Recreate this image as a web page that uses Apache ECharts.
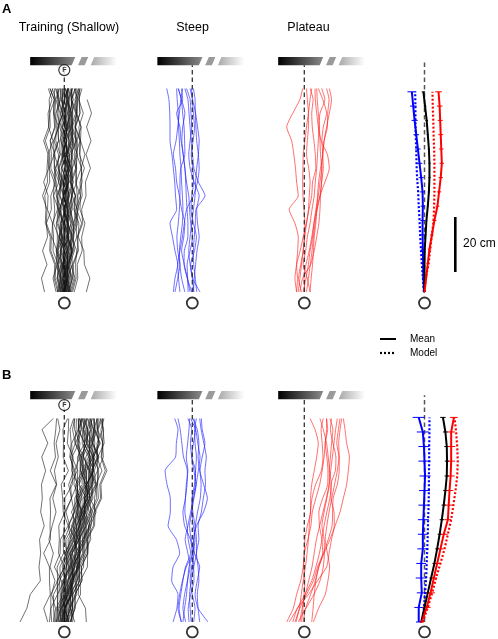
<!DOCTYPE html>
<html><head><meta charset="utf-8">
<script src="https://cdn.jsdelivr.net/npm/echarts@6/dist/echarts.min.js"></script>
<style>html,body{margin:0;padding:0;background:#fff}#c{width:498px;height:639px}</style>
</head><body><div id="c"></div>
<script>
// ---------- DATA (lateral position in cm, distance along track in cm) ----------
const panelTitles = ['Training (Shallow)', 'Steep', 'Plateau'];
const rowLabels = ['A', 'B'];
const trajLevels = [0,5,10,15,20,25,30,35,40,45,50,55,60,65,70,74];

const trainA = [
[0.2,1.1,0.9,1.6,0.1,-0.2,-1.5,-0.4,-0.3,1.4,1.0,1.8,0.2,0.3,-1.2,-1.2],
[-0.5,-1.6,-1.5,-3.0,-1.6,-1.4,0.3,0.2,1.7,0.3,0.5,-1.3,-1.1,-2.7,-2.2,-3.2],
[1.0,2.3,2.0,3.7,3.2,3.5,1.9,2.6,2.3,4.1,3.6,4.3,2.5,2.9,2.5,3.9],
[-1.0,0.1,-0.1,1.7,1.4,3.1,2.4,2.7,0.9,1.1,-0.7,0.9,0.7,2.5,0.9,1.1],
[0.5,-0.8,-0.5,-2.3,-2.0,-3.9,-3.5,-3.9,-2.0,-3.7,-3.4,-5.1,-3.5,-3.9,-3.6,-5.2],
[1.5,3.0,3.0,4.9,4.7,6.3,4.5,4.7,4.3,6.1,5.7,5.9,4.1,5.7,5.3,6.4],
[-2.0,-3.3,-3.1,-4.9,-4.7,-6.5,-6.3,-7.9,-6.1,-6.3,-5.9,-7.5,-5.7,-5.9,-4.5,-5.8],
[0.0,0.9,-0.5,-0.1,-0.7,0.9,0.3,0.7,-0.9,0.7,0.3,1.9,0.3,0.7,0.1,1.2],
[2.0,0.9,1.3,1.1,2.9,1.3,1.5,-0.1,1.7,1.5,3.1,1.5,1.9,1.7,3.3,2.2],
[-1.5,-2.7,-1.1,-1.3,-0.9,-2.7,-2.3,-2.5,-0.7,-2.3,-2.1,-3.7,-2.1,-2.3,-1.7,-3.0],
[0.8,1.9,1.5,3.1,1.3,1.5,1.1,2.9,2.7,4.5,4.1,5.7,3.9,4.3,3.9,5.2],
[-0.2,-1.3,-0.9,-2.7,-2.5,-2.9,-1.1,-2.9,-2.9,-4.9,-4.7,-5.1,-3.3,-3.5,-3.1,-4.4],
[3.0,4.3,4.1,4.5,2.7,4.3,4.1,5.9,5.7,7.3,5.5,5.7,5.3,6.9,5.3,5.2],
[-3.0,-4.1,-2.5,-2.7,-0.9,-1.1,0.7,0.5,0.9,-0.9,-0.7,-1.1,0.7,0.5,0.9,-0.4],
[-7.2,-8.3,-6.3,-7.9,-6.1,-6.5,-4.7,-4.9,-3.1,-3.3,-1.5,-3.1,-2.9,-3.1,-1.3,-1.4],
[8.0,9.3,7.3,7.1,5.1,5.3,3.5,3.9,2.1,2.5,0.9,2.5,2.3,2.7,1.1,1.2],
[2.2,3.5,3.3,5.1,4.9,6.7,6.3,7.9,7.7,9.5,7.9,9.7,8.1,9.9,8.3,null],
[0.4,-0.7,1.1,0.9,2.7,1.1,1.3,-0.5,-0.3,-2.1,-0.5,-0.7,1.1,-0.5,-0.1,0.0],
[-0.8,0.5,0.3,0.7,-1.1,-0.9,-1.3,0.5,0.3,2.1,1.9,3.5,1.9,2.1,1.7,3.0],
[1.2,0.1,0.3,-1.5,0.1,-0.1,1.7,1.5,3.3,1.7,1.9,0.1,0.3,-1.5,0.1,0.2],
[-1.8,-0.5,-0.7,1.1,0.9,1.3,-0.5,-0.3,-2.1,-1.9,-3.7,-2.1,-2.3,-0.5,-2.1,-2.0],
[2.6,3.9,2.3,2.5,0.7,2.5,2.3,4.1,2.5,2.7,2.5,4.3,4.1,4.5,2.7,2.8],
[-2.6,-1.3,-2.9,-2.7,-4.5,-4.3,-6.1,-5.9,-7.5,-5.7,-5.9,-4.1,-5.7,-5.3,-5.5,-4.2],
[0.0,1.5,1.3,3.3,3.1,4.9,4.7,6.5,6.1,6.3,4.5,4.7,2.9,3.1,2.7,4.2],
[1.8,0.5,0.7,-1.1,0.7,0.5,2.3,0.7,0.9,-0.9,0.9,0.7,2.5,2.3,2.7,1.4],
[-1.2,-2.5,-2.3,-4.1,-3.9,-4.3,-2.5,-2.7,-0.9,-1.1,0.7,0.5,0.9,-0.9,-0.7,-0.8],
[0.6,1.7,-0.1,0.1,-1.7,-1.5,-1.9,-0.1,-0.3,1.5,1.3,3.1,2.9,4.7,4.5,5.8],
[-0.4,0.7,0.5,2.3,2.1,3.9,3.7,4.1,2.3,2.5,0.7,0.9,-0.9,-0.7,-2.5,-2.4],
[3.6,4.9,4.7,6.5,6.3,7.5,5.7,5.9,4.1,4.3,2.5,4.1,3.9,5.7,5.5,5.6],
[-2.4,-3.7,-3.5,-5.3,-5.1,-6.9,-6.7,-7.1,-5.3,-5.5,-3.7,-3.9,-2.1,-3.9,-3.7,-5.2],
[1.0,-0.3,-0.1,-0.3,1.5,-0.1,0.1,-1.7,-1.5,-1.9,-0.1,-0.3,1.5,1.3,1.7,0.4],
[0.2,1.3,1.1,2.9,1.3,1.5,-0.3,1.3,1.1,2.9,2.7,3.1,1.3,1.5,1.3,2.8],
[-0.6,-1.9,-0.3,-0.5,1.3,1.1,2.9,2.7,4.5,4.3,4.7,2.9,3.1,2.7,4.3,4.2],
[1.4,2.7,1.1,1.3,-0.5,-0.3,-2.1,-1.9,-3.7,-3.5,-3.9,-2.1,-2.3,-0.5,-0.7,-0.6],
[-1.4,-0.1,-0.3,0.1,-1.7,-0.1,-0.3,1.5,1.3,1.7,-0.1,0.1,-1.7,-1.5,-3.1,-1.8],
[2.4,1.1,2.9,2.7,4.5,4.3,4.7,2.9,3.1,2.9,4.7,4.5,6.1,4.5,4.9,3.6],
[0.0,-1.3,-1.1,-1.5,0.3,0.1,0.3,-1.5,-1.3,-3.1,-1.5,-1.7,0.1,-0.1,1.7,1.6],
[-0.2,1.1,0.9,2.7,2.5,2.9,1.1,1.3,-0.5,1.1,0.9,2.7,2.5,4.1,2.5,2.6],
[1.6,0.3,1.9,1.7,3.5,3.3,5.1,4.9,6.5,6.1,7.5,5.9,6.1,4.3,4.7,4.6],
[-1.0,-2.3,-2.1,-2.3,-0.5,-2.3,-2.1,-3.9,-3.7,-5.5,-5.3,-6.9,-5.1,-5.3,-3.5,-3.6],
[0.6,-0.5,1.3,0.3,1.7,0.1,1.2,-0.4,1.5,0.2,1.6,-0.2,1.4,0.0,1.2,0.4],
[-0.4,0.8,-0.6,0.9,-0.2,1.3,0.0,1.8,0.4,2.2,0.8,2.4,1.0,2.0,0.6,1.6],
[1.8,2.9,1.6,2.8,1.2,2.4,0.6,1.9,0.2,1.4,-0.4,0.9,-0.8,0.6,-1.0,0.2],
[-2.2,-1.0,-2.4,-0.9,-2.0,-0.6,-1.8,-0.2,-1.4,0.3,-1.0,0.8,-0.6,1.2,0.0,1.4]
];

const steepA = [
[-6.9,-6.3,-5.3,-6.3,-7.2,-8.1,-5.7,-6.1,-6.4,-6.9,-7.4,-8.1,-8.1,-8.2,-8.5,-9.3],
[-2.7,-3.9,-4.5,-4.7,-4.2,-3.6,-3.4,-3.6,-3.9,-4.1,-4.5,-4.7,-5.0,-5.1,-5.5,-5.7],
[-0.2,-1.8,-3.0,-2.9,-1.6,-1.6,-1.9,-2.2,-2.4,-2.7,-3.3,-4.1,-4.5,-5.7,-3.5,-3.9],
[1.6,1.1,0.5,0.4,0.7,1.1,1.3,4.6,2.2,0.6,0.1,-0.4,-0.8,-1.2,-1.6,-2.7],
[2.8,0.1,-0.8,-1.3,-0.8,-0.2,0.4,1.0,1.2,1.6,2.2,2.5,1.9,1.2,0.1,-0.8],
[-1.5,-1.7,-1.9,-0.8,0.1,-0.6,-1.0,-1.3,-2.1,-2.7,-3.3,-3.8,-3.5,-2.7,-3.9,-5.1],
[0.4,0.7,1.2,1.7,2.5,1.9,1.6,2.5,0.6,-0.8,-1.3,-0.8,-0.2,-0.5,-0.8,-2.1],
[-4.5,-5.0,-5.3,-4.5,-3.6,-2.9,-2.1,0.4,1.9,2.5,2.2,1.6,1.3,1.1,1.0,0.4],
[-0.8,-1.8,-2.9,-3.9,-3.1,-2.7,-3.9,-4.7,-5.7,-6.1,-6.9,-5.9,-5.3,-4.7,-4.2,-3.5],
[-6.3,-5.3,-4.5,-5.3,-5.6,-5.1,-4.7,-4.5,-4.5,-4.2,-2.7,-2.8,-3.0,-3.5,-4.0,-5.1],
[0.6,0.0,-0.6,0.8,1.5,0.4,-0.5,-0.2,0.5,0.2,-0.4,0.3,0.8,0.4,0.0,-0.3]
];

const plateauA = [
[-2.8,-2.5,-2.8,-2.4,-2.2,-3.4,-5.5,-2.2,-2.8,-3.2,-3.8,-4.6,-6.4,-4.2,-1.6,-0.6],
[-2.2,-1.6,-1.0,-0.4,0.0,0.2,-0.1,-0.5,-0.6,-0.5,-0.4,0.2,0.8,1.5,2.1,2.7],
[0.2,-0.1,0.6,1.8,2.7,3.5,4.5,5.7,7.5,9.1,8.4,6.1,5.1,4.5,4.0,3.9],
[0.8,1.5,2.2,2.8,3.3,3.9,4.7,5.7,6.3,6.9,6.7,6.4,6.9,8.1,6.7,5.1],
[2.1,2.5,3.0,3.3,3.6,4.2,4.5,4.8,5.2,5.9,6.7,7.2,8.1,9.1,9.9,9.1],
[-2.8,-3.4,-2.8,-1.5,-0.4,0.8,1.7,2.7,3.0,4.2,4.0,3.5,2.9,2.7,3.2,2.1],
[2.1,1.1,-0.4,0.5,1.1,2.1,2.8,3.6,4.0,4.5,4.8,5.1,5.3,5.7,7.5,6.3],
[-1.6,-0.6,2.3,3.6,4.5,5.3,5.7,5.9,6.3,6.4,6.7,7.2,8.4,8.5,9.0,8.1],
[-1.0,-2.1,-1.3,-0.4,0.2,0.8,1.5,1.8,2.1,1.6,0.8,1.1,1.5,1.5,1.1,0.8],
[-0.4,0.6,1.5,2.1,3.0,3.5,4.2,5.1,5.7,6.3,5.9,5.7,5.5,5.1,4.7,4.5]
];

const trainB = [
[-16.1,-13.6,-12.4,-8.7,-9.2,-8.6,-9.0,-7.3,-8.6,-8.0,-8.3,-6.8,-8.2,-6.0,-8.1,-4.0],
[-6.0,-7.5,-5.1,-5.4,-5.4,-7.5,-5.0,-5.2,-5.0,-5.2,-2.9,-5.1,-3.2,-3.7,-3.1,-2.8],
[-3.0,-1.3,-1.1,-1.0,-3.6,-1.5,-1.4,1.4,-0.4,-0.6,-1.1,1.5,-0.4,-0.3,-0.5,1.2],
[0.0,0.3,2.9,2.8,5.4,5.5,7.8,7.6,9.6,9.2,11.5,10.9,12.6,10.5,10.9,11.0],
[1.0,2.9,2.9,5.6,5.6,7.9,8.0,10.6,10.8,13.2,12.9,14.9,13.4,13.9,13.3,14.4],
[-2.0,-1.9,0.5,0.4,0.8,1.1,3.8,3.6,6.0,6.0,8.7,6.7,7.0,4.7,5.1,5.2],
[0.6,2.3,0.3,3.0,3.0,5.5,5.4,6.0,6.2,8.6,8.3,10.7,8.8,9.3,8.9,10.2],
[-1.4,-1.1,1.3,1.2,3.8,1.9,4.4,4.2,6.4,4.4,7.1,7.1,9.4,7.3,7.7,6.4],
[2.0,3.9,3.9,6.4,6.2,8.5,8.4,11.0,11.2,13.6,13.3,15.5,13.6,14.1,12.1,12.0],
[-0.6,-2.3,0.1,0.0,2.6,2.7,5.2,3.0,5.2,5.2,7.9,5.9,6.2,4.1,6.1,6.2],
[-3.6,-3.9,-3.9,-1.4,-1.6,0.7,0.6,3.2,3.4,5.8,3.5,3.9,2.0,2.5,2.1,3.4],
[1.6,-0.1,2.3,2.2,4.8,4.9,7.4,7.2,7.4,7.4,10.1,10.1,12.2,10.1,12.1,12.4],
[-1.8,-0.1,-0.1,2.4,2.2,4.5,4.4,7.0,7.2,9.6,7.3,7.7,7.8,10.3,8.3,8.0],
[0.2,-1.5,-1.5,-1.8,0.8,0.9,3.4,3.2,5.4,5.4,8.1,8.1,10.4,10.1,10.5,9.2],
[-4.6,-4.9,-4.9,-2.4,-2.6,-0.3,-0.4,0.0,0.2,2.6,2.3,4.7,4.8,7.3,5.3,5.0],
[3.0,3.5,5.9,5.8,8.4,8.5,9.0,8.8,11.0,11.0,11.7,9.7,12.0,11.9,13.9,14.0],
[-0.2,1.7,1.7,2.0,1.8,4.1,4.0,6.6,6.8,9.2,8.9,9.1,7.0,7.3,6.9,8.2],
[1.2,1.7,4.1,4.0,4.6,4.7,7.2,7.0,9.2,7.2,7.9,5.9,6.2,3.9,4.3,4.4],
[-2.6,-0.9,-0.9,1.6,1.4,1.5,1.4,4.0,4.2,4.4,4.1,6.5,6.6,9.1,7.1,6.8],
[0.8,-0.9,1.5,1.4,4.0,4.1,6.6,6.4,8.6,8.6,11.3,9.1,9.2,9.1,11.5,11.8],
[-1.0,0.9,0.9,3.4,3.2,5.5,3.2,5.8,6.0,8.4,8.1,10.5,10.6,13.1,11.1,10.8],
[2.6,2.9,3.1,3.0,5.6,5.7,8.2,8.0,10.2,8.2,8.9,8.9,11.2,9.1,9.5,8.4],
[-0.4,1.3,1.3,3.8,3.6,5.9,5.8,6.4,4.6,5.0,4.7,7.1,5.2,5.7,3.7,3.6],
[-5.4,-4.9,-2.5,-2.6,0.0,-2.1,-1.8,-2.0,0.2,0.2,2.9,2.9,3.2,1.1,1.5,1.6],
[0.4,2.1,2.1,4.6,4.4,6.7,6.6,9.2,9.4,11.8,11.5,13.7,11.8,12.3,12.3,13.8],
[1.8,0.1,2.5,2.4,2.8,2.9,5.4,5.2,7.4,7.4,8.1,8.1,10.4,8.1,8.3,7.0],
[-2.2,-2.5,-2.5,0.0,-0.2,2.1,2.0,4.6,2.6,5.0,4.7,4.9,2.8,5.3,5.3,6.6],
[3.8,2.1,4.5,4.4,7.0,7.1,9.6,9.4,11.6,9.4,12.1,12.1,14.2,13.9,14.3,13.0],
[-1.2,0.5,0.5,0.8,0.6,2.9,2.8,5.4,5.6,8.0,5.5,5.7,5.8,8.3,8.3,9.6],
[0.0,0.3,2.7,2.6,5.2,5.3,5.8,5.6,7.8,7.8,10.5,10.5,10.6,8.3,8.5,7.4],
[8.0,7.7,5.1,5.2,5.0,7.3,7.2,9.8,10.0,12.4,12.1,12.5,10.6,11.1,10.7,12.0],
[-3.2,-2.9,-0.5,-0.6,2.0,2.1,4.6,4.4,6.6,4.4,4.9,2.7,2.8,2.7,5.1,5.4],
[1.4,3.1,3.1,5.6,5.4,5.5,5.4,8.0,6.0,8.4,8.1,10.5,10.6,12.9,10.9,10.6],
[-0.8,-0.5,-0.3,-0.4,2.2,2.3,4.8,4.6,6.8,6.8,9.5,9.5,9.6,7.3,9.7,10.0],
[2.2,3.9,3.9,6.4,6.2,8.5,8.4,8.8,6.8,9.2,8.9,9.1,7.0,7.3,5.1,6.2],
[-1.6,-1.3,1.1,1.0,3.6,3.7,4.0,1.6,3.8,3.8,6.5,6.5,8.8,6.5,6.7,5.6],
[0.6,2.3,2.3,4.8,4.6,6.9,6.8,9.4,7.6,10.0,9.7,12.1,12.2,14.5,14.1,13.8],
[-2.8,-2.5,-2.3,-2.4,0.2,0.3,2.8,2.6,4.8,4.8,7.5,7.5,9.8,9.7,9.9,8.6],
[1.0,0.7,0.7,3.2,3.0,5.3,5.2,7.8,8.0,10.4,10.1,10.3,10.2,12.5,12.1,13.2],
[-0.2,0.1,2.5,2.4,5.0,2.9,5.4,5.2,7.4,7.4,10.1,10.1,12.4,10.3,10.7,9.4],
[-4.0,-3.2,-4.6,-3.4,-5.2,-4.0,-5.6,-4.4,-3.0,-4.2,-2.8,-3.6,-2.2,-3.0,-1.6,-2.4],
[-1.0,0.2,-1.2,0.6,-0.8,1.2,0.0,2.0,0.6,2.6,1.6,3.4,2.2,4.0,3.0,3.8],
[2.4,3.0,1.8,3.4,2.6,4.6,3.6,5.6,4.4,6.4,5.4,7.4,6.2,8.0,7.0,7.6],
[0.4,-0.6,0.8,-0.2,1.6,0.4,2.4,1.4,3.6,2.6,4.6,3.8,5.6,5.0,6.2,5.6]
];

const steepB = [
[-7.0,-5.6,-5.2,-7.5,-7.0,-4.6,-5.8,-8.8,-8.0,-8.0,-9.2,-9.9,-6.1,-5.8,-5.2,-6.4],
[-4.0,-4.8,-4.2,-3.4,-2.5,-0.6,-1.5,-1.9,-2.7,-2.5,-1.9,-1.8,-3.2,-3.8,-4.4,-5.2],
[-3.4,-2.8,-2.1,-1.7,-1.2,0.2,1.0,0.4,-0.2,0.0,1.1,1.1,-0.2,-0.7,-0.2,-1.6],
[2.7,2.1,1.8,2.4,2.1,1.5,2.4,2.1,3.3,4.0,4.8,4.6,5.1,4.2,3.2,2.7],
[5.7,2.1,1.0,1.8,2.7,0.8,0.5,1.5,4.1,5.5,4.1,2.7,2.1,2.4,1.8,0.2],
[-4.0,-5.2,-4.6,-3.6,-2.2,0.0,-0.7,-2.8,-3.4,-2.5,-2.2,-1.6,-2.2,-1.7,-1.2,-1.0],
[-0.4,-0.8,-1.0,-0.4,0.5,1.5,1.5,1.0,0.2,-0.1,0.8,1.2,1.5,1.0,0.8,1.5],
[-1.2,-1.5,-0.6,0.6,0.5,0.2,0.5,1.1,1.9,2.9,3.2,2.8,3.6,4.6,3.6,3.3],
[0.5,1.0,0.0,-0.8,-0.2,0.6,-0.4,-1.0,-0.2,0.6,1.4,0.6,-0.2,0.4,1.2,0.6],
[-2.4,-3.4,-2.8,-1.8,-0.8,-1.6,-2.6,-1.6,-0.6,0.4,1.4,2.2,2.8,2.0,1.2,-0.6]
];

const plateauB = [
[-6.4,-4.0,-2.8,-1.3,-0.4,0.0,0.2,1.1,2.3,2.3,2.7,3.6,4.5,5.1,3.9,2.1],
[-5.5,-2.5,0.2,2.7,4.2,5.5,6.4,7.2,8.2,9.3,9.8,9.2,8.7,8.1,6.9,5.7],
[-3.4,-1.6,0.8,3.3,4.8,6.9,8.7,10.1,10.3,10.5,12.0,12.7,12.7,12.5,13.0,13.6],
[-0.4,0.5,2.3,4.0,5.2,7.2,9.3,11.2,13.0,14.2,15.4,16.0,16.4,15.4,14.8,14.2],
[-1.0,-0.5,-0.1,0.2,-0.2,0.0,1.3,2.4,2.9,4.2,5.6,6.5,7.2,7.6,8.1,8.1],
[-2.2,0.6,3.5,5.7,6.9,7.3,7.2,6.4,7.2,8.2,9.1,9.1,9.5,9.9,10.4,9.3],
[-3.0,-1.8,-1.1,-0.4,0.4,1.0,1.5,1.8,2.2,2.8,4.1,6.2,6.8,6.5,6.1,6.9],
[-4.2,-2.5,1.5,4.8,8.1,9.0,9.9,10.9,10.8,9.7,9.7,11.3,11.5,10.4,9.5,9.9],
[2.7,3.2,3.6,4.2,5.3,6.7,6.4,5.5,5.3,6.7,8.5,8.6,8.2,7.6,8.5,8.1],
[3.3,5.2,7.6,8.6,9.2,8.4,7.6,8.2,9.0,10.0,11.0,12.0,12.6,11.8,12.4,13.0],
[-1.6,-0.8,0.4,1.6,2.8,3.6,4.4,5.6,6.8,8.0,9.0,9.6,10.2,10.8,11.4,12.0]
];

// summary panels (mean, model, error) at sampled distances
const levelsA = [0,5.2,10.4,15.6,20.8,26.0,31.2,36.4,41.6,46.8,52.0,57.2,62.4,67.6,72.8];
const blueMeanA  = [-0.2,-0.4,-0.5,-0.6,-0.7,-0.7,-0.6,-0.7,-1.2,-1.8,-2.4,-3.0,-3.6,-4.1,-4.6];
const blueModelA = [-0.2,-0.6,-1.0,-1.3,-1.6,-1.8,-2.1,-2.3,-2.7,-2.9,-3.0,-3.2,-3.3,-3.3,-3.4];
const blackMeanA = [-0.1,0,0,0.1,0.4,0.7,1.2,1.6,1.8,1.8,1.6,1.2,0.8,0.2,-0.4];
const redMeanA   = [0,0.6,1.2,1.8,2.7,3.6,4.7,5.3,5.9,6.3,6.1,5.9,5.7,5.5,5.1];
const redModelA  = [0,0.5,1.5,2.1,2.7,3.3,3.5,3.6,3.6,3.6,3.5,3.3,3.2,3.0,2.9];
const blueErrA   = [0.3,0.5,0.6,0.7,0.8,0.8,0.8,0.9,0.9,1.0,1.0,1.0,1.1,1.2,1.6];
const blackErrA  = [0.1,0.2,0.2,0.3,0.3,0.3,0.3,0.4,0.4,0.4,0.4,0.4,0.5,0.5,0.6];
const redErrA    = [0.2,0.4,0.5,0.6,0.6,0.7,0.7,0.8,0.8,0.8,0.8,0.9,0.9,1.0,1.2];

const levelsB = [0,5.3,10.6,16.0,21.3,26.6,31.9,37.2,42.5,47.8,53.1,58.5,63.8,69.1,74.4];
const blueMeanB  = [-2.1,-2.1,-1.0,-1.2,-1.2,-0.6,-0.6,-0.4,-0.2,0,0.2,0,-0.2,-0.6,-2.1];
const blueModelB = [-0.6,-0.2,0.2,0.6,0.8,1.0,1.2,1.3,1.5,1.6,1.6,1.7,1.7,1.8,1.8];
const blackMeanB = [-1.2,0,1.2,2.4,3.6,4.6,5.5,6.3,7.0,7.6,8.1,8.2,8.1,7.6,6.7];
const redMeanB   = [-1.0,0.8,2.2,3.4,4.6,5.8,7.0,8.5,8.8,9.1,9.5,9.7,9.7,9.7,10.7];
const redModelB  = [-0.6,1.2,2.8,4.2,5.8,7.3,8.5,9.7,10.5,11.3,11.9,12.1,11.9,11.5,10.9];
const blueErrB   = [1.0,1.6,1.8,2.0,1.8,2.0,1.8,2.0,2.0,2.0,2.0,2.2,2.0,2.2,2.2];
const blackErrB  = [0.3,0.5,0.6,0.6,0.7,0.7,0.7,0.8,0.8,0.8,0.8,0.8,0.9,0.9,1.0];
const redErrB    = [0.8,1.4,1.6,1.2,1.4,1.2,1.4,1.3,1.4,1.4,1.5,1.4,1.5,1.4,1.4];

const scaleBarLength = 20; // cm
const legendLabels = ['Mean', 'Model'];

// ---------- LAYOUT ----------
const PX = 2.75;                 // px per cm
const X_MIN = -18, X_MAX = 24, Y_MIN = -6, Y_MAX = 88;
const centers = [64.3, 192.3, 304.3, 424.5];
const zeroY = [292, 622];
const rowGeom = [
  {barTop: 85.5, barBot: 82.5, fY: 80.7, circY: -4.0, dashTop4: 84.4},
  {barTop: 84.0, barBot: 81.0, fY: 78.9, circY: -3.6, dashTop4: 82.5}
];
const barLeft = [-12.4, -12.7, -9.5];
const BAR = {darkEnd: 16.4, paraStart: 18.7, paraEnd: 21.1, lightStart: 23.3, lightEnd: 31.6, slant: 1.3};

const grids = [], xAxes = [], yAxes = [];
for (let r = 0; r < 2; r++) for (let c = 0; c < 4; c++) {
  grids.push({left: centers[c] + X_MIN*PX, top: zeroY[r] - Y_MAX*PX,
              width: (X_MAX-X_MIN)*PX, height: (Y_MAX-Y_MIN)*PX});
  const i = grids.length - 1;
  xAxes.push({type:'value', gridIndex:i, min:X_MIN, max:X_MAX, show:false});
  yAxes.push({type:'value', gridIndex:i, min:Y_MIN, max:Y_MAX, show:false});
}

const series = [];
function ax(i){ return {xAxisIndex:i, yAxisIndex:i}; }
function addTraj(list, gi, color, width, opacity, smooth){
  list.forEach(tr => series.push(Object.assign({
    type:'line', silent:true, symbol:'none', smooth:smooth, animation:false,
    lineStyle:{color, width, opacity},
    data: trajLevels.map((y,k)=>[tr[k], y]).filter(p=>p[0]!=null)
  }, ax(gi))));
}
function addDash(gi, top, color, width){
  series.push(Object.assign({type:'line', silent:true, symbol:'none', animation:false,
    lineStyle:{color, width, type:[4.5,3]}, data:[[0,0],[0,top]], z:3}, ax(gi)));
}
function addBar(gi, left, g){
  series.push(Object.assign({type:'custom', silent:true, animation:false,
    data:[[left, g.barTop, g.barBot]],
    renderItem:function(params, api){
      const L = api.value(0), T = api.value(1), B = api.value(2), s = BAR.slant;
      const P = (x,y)=>api.coord([x,y]);
      const lg = (a,b)=> new echarts.graphic.LinearGradient(0,0,1,0,[{offset:0,color:a},{offset:1,color:b}]);
      return {type:'group', children:[
        {type:'polygon', shape:{points:[P(L,T),P(L+BAR.darkEnd,T),P(L+BAR.darkEnd-s,B),P(L,B)]}, style:{fill:lg('#000','#8a8a8a')}},
        {type:'polygon', shape:{points:[P(L+BAR.paraStart,T),P(L+BAR.paraEnd,T),P(L+BAR.paraEnd-s,B),P(L+BAR.paraStart-s,B)]}, style:{fill:'#9a9a9a'}},
        {type:'polygon', shape:{points:[P(L+BAR.lightStart,T),P(L+BAR.lightEnd,T),P(L+BAR.lightEnd,B),P(L+BAR.lightStart-s,B)]}, style:{fill:lg('#a8a8a8','#ffffff')}}
      ]};
    }}, ax(gi)));
}
function addCircle(gi, y, label){
  series.push(Object.assign({type:'scatter', silent:true, animation:false, z:5,
    symbol:'circle', symbolSize: 11,
    itemStyle:{color:'#fff', borderColor:'#000', borderWidth: label ? 1.2 : 1.8},
    label: label ? {show:true, position:'inside', formatter:label, fontSize:7, fontWeight:'bold', color:'#000', fontFamily:'Liberation Sans'} : {show:false},
    data:[[0, y]]}, ax(gi)));
}
function addMean(gi, xs, ys, color, dotted){
  series.push(Object.assign({type:'line', silent:true, symbol:'none', animation:false, z: dotted?3:4,
    lineStyle:{color, width: dotted?2.2:2, type: dotted?[2,2]:'solid'},
    data: ys.map((y,k)=>[xs[k], y])}, ax(gi)));
}
function addErr(gi, xs, es, ys, color){
  series.push(Object.assign({type:'custom', silent:true, animation:false, z:4,
    data: ys.map((y,k)=>[xs[k], y, es[k]]),
    renderItem:function(params, api){
      const m = api.value(0), y = api.value(1), e = api.value(2);
      const a = api.coord([m-e, y]), b = api.coord([m+e, y]);
      return {type:'line', shape:{x1:a[0], y1:a[1], x2:b[0], y2:b[1]}, style:{stroke:color, lineWidth:1}};
    }}, ax(gi)));
}

const rows = [
  {train: trainA, steep: steepA, plateau: plateauA, lv: levelsA,
   bM: blueMeanA, bMo: blueModelA, kM: blackMeanA, rM: redMeanA, rMo: redModelA, bE: blueErrA, kE: blackErrA, rE: redErrA},
  {train: trainB, steep: steepB, plateau: plateauB, lv: levelsB,
   bM: blueMeanB, bMo: blueModelB, kM: blackMeanB, rM: redMeanB, rMo: redModelB, bE: blueErrB, kE: blackErrB, rE: redErrB}
];

rows.forEach((R, r) => {
  const g = rowGeom[r], base = r*4;
  addBar(base, barLeft[0], g);
  addDash(base, g.barBot, '#333', 1.3);
  addTraj(R.train, base, '#111', 0.7, 0.85, false);
  addCircle(base, g.fY, 'F');
  addCircle(base, g.circY, null);

  addBar(base+1, barLeft[1], g);
  addTraj(R.steep, base+1, '#1a1aff', 0.7, 0.9, 0.2);
  addDash(base+1, g.barBot, '#333', 1.3);
  addCircle(base+1, g.circY, null);

  addBar(base+2, barLeft[2], g);
  addTraj(R.plateau, base+2, '#ff1a1a', 0.7, 0.9, 0.2);
  addDash(base+2, g.barBot, '#333', 1.3);
  addCircle(base+2, g.circY, null);

  addDash(base+3, g.dashTop4, '#555', 1.5);
  addMean(base+3, R.bMo, R.lv, '#0000ff', true);
  addMean(base+3, R.rMo, R.lv, '#ff0000', true);
  addErr(base+3, R.bM, R.bE, R.lv, '#0000ff');
  addErr(base+3, R.kM, R.kE, R.lv, '#000');
  addErr(base+3, R.rM, R.rE, R.lv, '#ff0000');
  addMean(base+3, R.bM, R.lv, '#0000ff', false);
  addMean(base+3, R.kM, R.lv, '#000', false);
  addMean(base+3, R.rM, R.lv, '#ff0000', false);
  addCircle(base+3, g.circY, null);
});

// scale bar in summary panel A
series.push(Object.assign({type:'line', silent:true, symbol:'none', animation:false,
  lineStyle:{color:'#000', width:2.6}, data:[[11.2, 7.3],[11.2, 7.3+scaleBarLength]]}, ax(3)));

const font = 'Liberation Sans';
const graphic = [
  {type:'text', left:2, top:3, style:{text:rowLabels[0], font:'bold 13px '+font, fill:'#000'}},
  {type:'text', left:2, top:369, style:{text:rowLabels[1], font:'bold 13px '+font, fill:'#000'}},
  {type:'text', x:69, y:28, style:{text:panelTitles[0], font:'12.5px '+font, fill:'#000', textAlign:'center', textVerticalAlign:'middle'}},
  {type:'text', x:192.5, y:28, style:{text:panelTitles[1], font:'12.5px '+font, fill:'#000', textAlign:'center', textVerticalAlign:'middle'}},
  {type:'text', x:308.5, y:28, style:{text:panelTitles[2], font:'12.5px '+font, fill:'#000', textAlign:'center', textVerticalAlign:'middle'}},
  {type:'text', x:463, y:244, style:{text:scaleBarLength + ' cm', font:'12px '+font, fill:'#000', textVerticalAlign:'middle'}},
  {type:'line', shape:{x1:380, y1:339, x2:396, y2:339}, style:{stroke:'#000', lineWidth:2}},
  {type:'line', shape:{x1:380, y1:353, x2:396, y2:353}, style:{stroke:'#000', lineWidth:2.2, lineDash:[2,2]}},
  {type:'text', x:410, y:339, style:{text:legendLabels[0], font:'10px '+font, fill:'#000', textVerticalAlign:'middle'}},
  {type:'text', x:410, y:353, style:{text:legendLabels[1], font:'10px '+font, fill:'#000', textVerticalAlign:'middle'}}
];

const chart = echarts.init(document.getElementById('c'), null, {renderer:'canvas'});
chart.setOption({animation:false, backgroundColor:'#fff', grid:grids, xAxis:xAxes, yAxis:yAxes, series, graphic});
</script></body></html>
